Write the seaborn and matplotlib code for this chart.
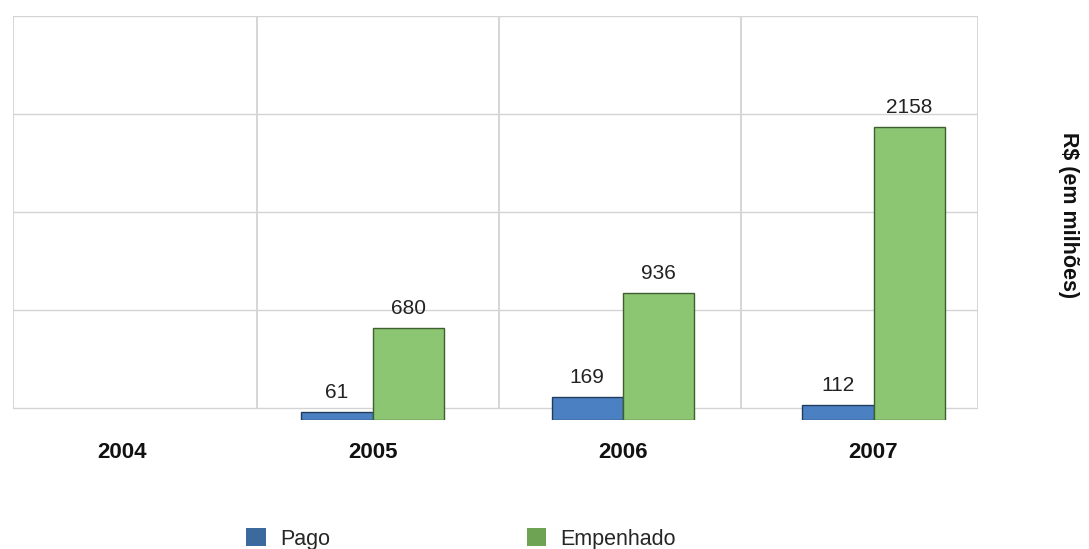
import numpy as np
import pandas as pd
import matplotlib
matplotlib.use("Agg")
import matplotlib.pyplot as plt
import matplotlib.patches as mpatches
import seaborn as sns

# ── Data ────────────────────────────────────────────────────────────────
years     = ["2004", "2005", "2006", "2007"]
pago      = [np.nan, 61, 169, 112]
empenhado = [np.nan, 680, 936, 2158]
series    = ["Pago", "Empenhado"]

df = pd.DataFrame({
    "ano":   years * 2,
    "serie": ["Pago"] * len(years) + ["Empenhado"] * len(years),
    "valor": pago + empenhado,
})

BAR_COLORS    = {"Pago": "#4B80C2", "Empenhado": "#8DC673"}
EDGE_COLORS   = {"Pago": "#243B5C", "Empenhado": "#3E5F2E"}
LEGEND_COLORS = {"Pago": "#3D6A9E", "Empenhado": "#6EA353"}

sns.set_theme(style="white")
plt.rcParams["font.family"] = ["Liberation Sans", "DejaVu Sans"]

W, H = 1089, 549
fig = plt.figure(figsize=(W / 100, H / 100), dpi=100)
ax = fig.add_axes([13 / W, 129 / H, 965 / W, 404 / H])

sns.barplot(data=df, x="ano", y="valor", hue="serie", order=years,
            hue_order=series, palette=BAR_COLORS, width=0.57,
            ax=ax, legend=False, saturation=1)

for cont, s in zip(ax.containers, series):
    for p in cont.patches:
        p.set_edgecolor(EDGE_COLORS[s])
        p.set_linewidth(1.0)
    labels = ["" if np.isnan(v) else f"{int(v)}" for v in cont.datavalues]
    ax.bar_label(cont, labels=labels, padding=7, fontsize=15, color="#222222")

# category spacing is a bit wider than the back-wall grid (3D look)
px_per_cat = 250.5
ax.set_xlim(-(122 - 13) / px_per_cat, (978 - 122) / px_per_cat)

# back-wall grid: horizontal lines + vertical panel lines
grid_vals = [88, 810, 1532, 2254, 2975]
ax.set_ylim(0, 2975)
ax.set_yticks(grid_vals)
ax.set_yticklabels([])
ax.yaxis.grid(True, color="#d4d4d4", linewidth=1.0)
ax.set_axisbelow(True)
wall_x = [(x - 13) / 965 for x in (13, 257, 499, 741, 978)]
ax.vlines(wall_x, 88 / 2975, 1, transform=ax.transAxes,
          color="#cfcfcf", linewidth=1.2, zorder=0)

for sp in ax.spines.values():
    sp.set_visible(False)

ax.tick_params(axis="both", length=0)
ax.tick_params(axis="x", pad=16)
for lab in ax.get_xticklabels():
    lab.set_fontweight("bold")
    lab.set_fontsize(16)
    lab.set_color("#111111")
ax.set_xlabel("")
ax.set_ylabel("")

fig.text(1068 / W, 1 - 215 / H, "R$ (em milhões)", rotation=270,
         ha="center", va="center", fontsize=15.5, fontweight="bold",
         color="#111111")

handles = [mpatches.Patch(facecolor=LEGEND_COLORS[s], edgecolor="none", label=s)
           for s in series]
fig.legend(handles=handles, loc="center", bbox_to_anchor=(461 / W, 10 / H),
           ncol=2, frameon=False, fontsize=15.5, handlelength=0.9,
           handleheight=0.9, handletextpad=0.65, columnspacing=9.15,
           borderpad=0)

fig.savefig("out.png", dpi=100)
